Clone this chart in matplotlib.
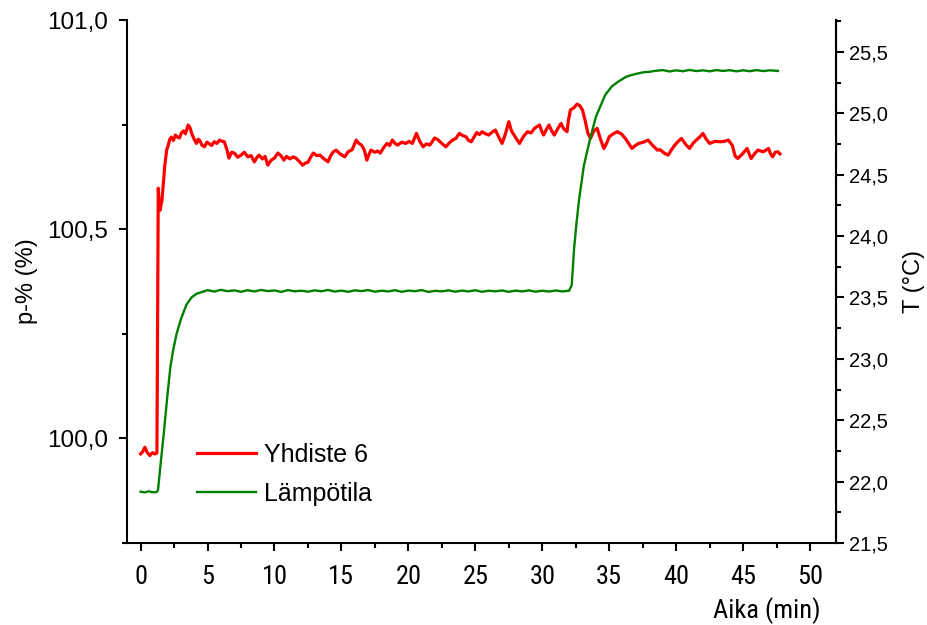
import numpy as np
import matplotlib
matplotlib.use("Agg")
import matplotlib.pyplot as plt
from matplotlib.ticker import MultipleLocator, FuncFormatter

# Yhdiste 6 (left axis, p-%)
t_red = [0.0, 0.15, 0.32, 0.5, 0.69, 0.88, 1.06, 1.22, 1.32, 1.38, 1.45, 1.6, 1.8, 1.95, 2.06,
         2.18, 2.3, 2.45, 2.6, 2.75, 2.9, 3.05, 3.2, 3.35, 3.55, 3.7, 3.8, 4.0, 4.17, 4.3, 4.4,
         4.6, 4.77, 4.95, 5.1, 5.3, 5.5, 5.7, 5.9, 6.1, 6.25, 6.45, 6.6, 6.8, 7.0, 7.25, 7.5,
         7.75, 8.0, 8.25, 8.5, 8.7, 8.85, 9.1, 9.3, 9.5, 9.75, 10.0, 10.25, 10.5, 10.7, 10.9,
         11.15, 11.4, 11.6, 11.85, 12.1, 12.3, 12.5, 12.7, 12.9, 13.15, 13.4, 13.7, 14.0, 14.2,
         14.4, 14.6, 14.9, 15.25, 15.5, 15.8, 16.1, 16.3, 16.5, 16.7, 16.9, 17.05, 17.2, 17.5,
         17.7, 17.9, 18.15, 18.4, 18.6, 18.8, 19.0, 19.2, 19.5, 19.8, 20.05, 20.3, 20.6, 20.85,
         21.1, 21.35, 21.6, 21.8, 21.95, 22.2, 22.5, 22.8, 23.05, 23.3, 23.55, 23.8, 24.05, 24.3,
         24.5, 24.7, 24.9, 25.1, 25.3, 25.5, 25.75, 26.0, 26.25, 26.5, 26.75, 27.0, 27.25, 27.5,
         27.7, 27.95, 28.15, 28.3, 28.6, 28.9, 29.15, 29.45, 29.8, 29.95, 30.1, 30.3, 30.5, 30.7,
         30.9, 31.15, 31.4, 31.6, 31.85, 31.95, 32.1, 32.35, 32.6, 32.8, 33.0, 33.2, 33.4, 33.6,
         33.85, 34.1, 34.35, 34.6, 34.8, 35.0, 35.3, 35.6, 35.9, 36.2, 36.45, 36.7, 36.95, 37.2,
         37.55, 37.9, 38.25, 38.6, 38.8, 39.1, 39.4, 39.65, 39.9, 40.15, 40.4, 40.7, 41.0, 41.25,
         41.5, 41.75, 42.0, 42.25, 42.5, 42.9, 43.3, 43.6, 43.9, 44.2, 44.4, 44.6, 44.95, 45.3,
         45.45, 45.6, 45.85, 46.1, 46.5, 46.9, 47.05, 47.2, 47.4, 47.6, 47.75]
p_red = [99.963, 99.968, 99.979, 99.966, 99.959, 99.966, 99.963, 99.965, 100.598, 100.56,
         100.545, 100.57, 100.65, 100.69, 100.70, 100.715, 100.72, 100.712, 100.725, 100.72,
         100.718, 100.73, 100.735, 100.728, 100.749, 100.742, 100.73, 100.715, 100.705, 100.715,
         100.713, 100.70, 100.697, 100.708, 100.705, 100.70, 100.709, 100.705, 100.713, 100.71,
         100.709, 100.69, 100.67, 100.684, 100.682, 100.672, 100.677, 100.684, 100.673, 100.676,
         100.661, 100.672, 100.677, 100.668, 100.674, 100.653, 100.665, 100.67, 100.682, 100.675,
         100.665, 100.674, 100.668, 100.673, 100.67, 100.662, 100.653, 100.658, 100.66, 100.672,
         100.682, 100.676, 100.677, 100.668, 100.661, 100.676, 100.685, 100.689, 100.68, 100.673,
         100.685, 100.69, 100.713, 100.705, 100.701, 100.69, 100.665, 100.678, 100.689, 100.684,
         100.687, 100.682, 100.695, 100.705, 100.70, 100.713, 100.705, 100.701, 100.708, 100.705,
         100.71, 100.705, 100.729, 100.71, 100.697, 100.704, 100.701, 100.71, 100.718, 100.714,
         100.705, 100.697, 100.706, 100.713, 100.717, 100.729, 100.724, 100.721, 100.712, 100.709,
         100.72, 100.731, 100.726, 100.733, 100.728, 100.725, 100.732, 100.737, 100.72, 100.705,
         100.728, 100.757, 100.735, 100.722, 100.712, 100.705, 100.722, 100.733, 100.73, 100.742,
         100.749, 100.735, 100.725, 100.738, 100.749, 100.735, 100.725, 100.74, 100.753, 100.74,
         100.733, 100.76, 100.785, 100.79, 100.799, 100.795, 100.785, 100.76, 100.73, 100.717,
         100.735, 100.741, 100.715, 100.693, 100.705, 100.721, 100.728, 100.733, 100.728, 100.717,
         100.705, 100.693, 100.70, 100.705, 100.708, 100.713, 100.70, 100.689, 100.69, 100.682,
         100.677, 100.69, 100.701, 100.71, 100.717, 100.703, 100.693, 100.705, 100.713, 100.72,
         100.729, 100.715, 100.705, 100.71, 100.709, 100.71, 100.713, 100.70, 100.675, 100.669,
         100.68, 100.693, 100.68, 100.669, 100.68, 100.689, 100.685, 100.693, 100.68, 100.673,
         100.684, 100.685, 100.68]

# Lämpötila (right axis, T)
t_green = [0.0, 0.3, 0.6, 0.9, 1.2, 1.3, 1.5, 1.73, 2.0, 2.23, 2.45, 2.68, 3.0, 3.42, 3.8, 4.17,
           4.6, 5.0, 5.5, 6.0, 6.5, 7.0, 7.5, 8.0, 8.5, 9.0, 9.5, 10.0, 10.5, 11.0, 11.5, 12.0,
           12.5, 13.0, 13.5, 14.0, 14.5, 15.0, 15.5, 16.0, 16.5, 17.0, 17.5, 18.0, 18.5, 19.0,
           19.5, 20.0, 20.5, 21.0, 21.5, 22.0, 22.5, 23.0, 23.5, 24.0, 24.5, 25.0, 25.5, 26.0,
           26.5, 27.0, 27.5, 28.0, 28.5, 29.0, 29.5, 30.0, 30.5, 31.0, 31.5, 32.0, 32.2, 32.37,
           32.55, 32.74, 33.1, 33.5, 34.0, 34.7, 35.2, 35.7, 36.3, 36.95, 37.6, 38.0, 38.4, 39.0,
           39.5, 40.0, 40.5, 41.0, 41.5, 42.0, 42.5, 43.0, 43.5, 44.0, 44.5, 45.0, 45.5, 46.0,
           46.5, 47.0, 47.6]
T_green = [21.918, 21.912, 21.921, 21.913, 21.915, 21.93, 22.15, 22.39, 22.70, 22.94, 23.08,
           23.2, 23.32, 23.44, 23.50, 23.53, 23.545, 23.56, 23.548, 23.562, 23.551, 23.558,
           23.546, 23.559, 23.549, 23.561, 23.552, 23.557, 23.545, 23.56, 23.55, 23.555, 23.547,
           23.558, 23.55, 23.561, 23.548, 23.556, 23.546, 23.558, 23.552, 23.56, 23.547, 23.555,
           23.549, 23.559, 23.546, 23.556, 23.551, 23.56, 23.545, 23.554, 23.55, 23.558, 23.547,
           23.556, 23.549, 23.559, 23.546, 23.555, 23.55, 23.557, 23.546, 23.556, 23.549, 23.558,
           23.547, 23.555, 23.548, 23.557, 23.549, 23.555, 23.6, 23.89, 24.1, 24.29, 24.57,
           24.76, 24.97, 25.15, 25.22, 25.26, 25.30, 25.32, 25.335, 25.338, 25.345, 25.352,
           25.341, 25.35, 25.343, 25.353, 25.344, 25.35, 25.342, 25.352, 25.345, 25.351, 25.342,
           25.35, 25.343, 25.352, 25.344, 25.35, 25.345]

comma = FuncFormatter(lambda v, pos: f"{v:.1f}".replace(".", ","))

plt.rcParams['font.family'] = ['Liberation Sans', 'DejaVu Sans']
narrow = ['Roboto Condensed', 'Liberation Sans']

fig = plt.figure(figsize=(9.27, 6.25), dpi=100)
ax = fig.add_axes([0.1365, 0.1312, 0.7648, 0.8368])
ax2 = ax.twinx()

l1, = ax.plot(t_red, p_red, color='#ff0000', lw=2.3, label='Yhdiste 6')
l2, = ax2.plot(t_green, T_green, color='#008000', lw=1.7, label='Lämpötila')

ax.set_xlim(-1.05, 51.9)
ax.set_ylim(99.75, 101.0)
ax2.set_ylim(21.5, 25.76)

ax.spines['top'].set_visible(False)
ax2.spines['top'].set_visible(False)
for s in ['left', 'bottom']:
    ax.spines[s].set_linewidth(1.5)
ax2.spines['right'].set_linewidth(1.5)
ax2.spines['left'].set_visible(False)
ax2.spines['bottom'].set_visible(False)

ax.xaxis.set_major_locator(MultipleLocator(5))
ax.xaxis.set_minor_locator(MultipleLocator(2.5))
ax.yaxis.set_major_locator(MultipleLocator(0.5))
ax.yaxis.set_minor_locator(MultipleLocator(0.25))
ax.yaxis.set_major_formatter(comma)
ax2.yaxis.set_major_locator(MultipleLocator(0.5))
ax2.yaxis.set_minor_locator(MultipleLocator(0.25))
ax2.yaxis.set_major_formatter(comma)

ax.tick_params(axis='both', which='major', direction='out', length=6, width=1.5)
ax.tick_params(axis='both', which='minor', direction='out', length=3.5, width=1.5)
ax.tick_params(axis='y', labelsize=17.5, pad=7)
ax.tick_params(axis='x', labelsize=19, pad=10, labelfontfamily='Roboto Condensed')
ax2.tick_params(axis='y', which='major', direction='out', length=6, width=1.5,
                labelsize=14.5, pad=3.5)
ax2.tick_params(axis='y', which='minor', direction='out', length=3.5, width=1.5)

ax.set_ylabel('p-% (%)', fontsize=17, labelpad=7)
ax2.set_ylabel('T (°C)', fontsize=17, labelpad=11)
ax.set_xlabel('Aika (min)', fontsize=19, family=narrow, va='center')
ax.xaxis.set_label_coords(0.903, -0.13)

ax.legend(handles=[l1, l2], loc='center left', bbox_to_anchor=(197 / 927, 1 - 474 / 625),
          bbox_transform=fig.transFigure, frameon=False, fontsize=18, borderpad=0,
          borderaxespad=0, handlelength=2.35, handletextpad=0.35, labelspacing=0.6)

fig.savefig('out.png', dpi=100)
